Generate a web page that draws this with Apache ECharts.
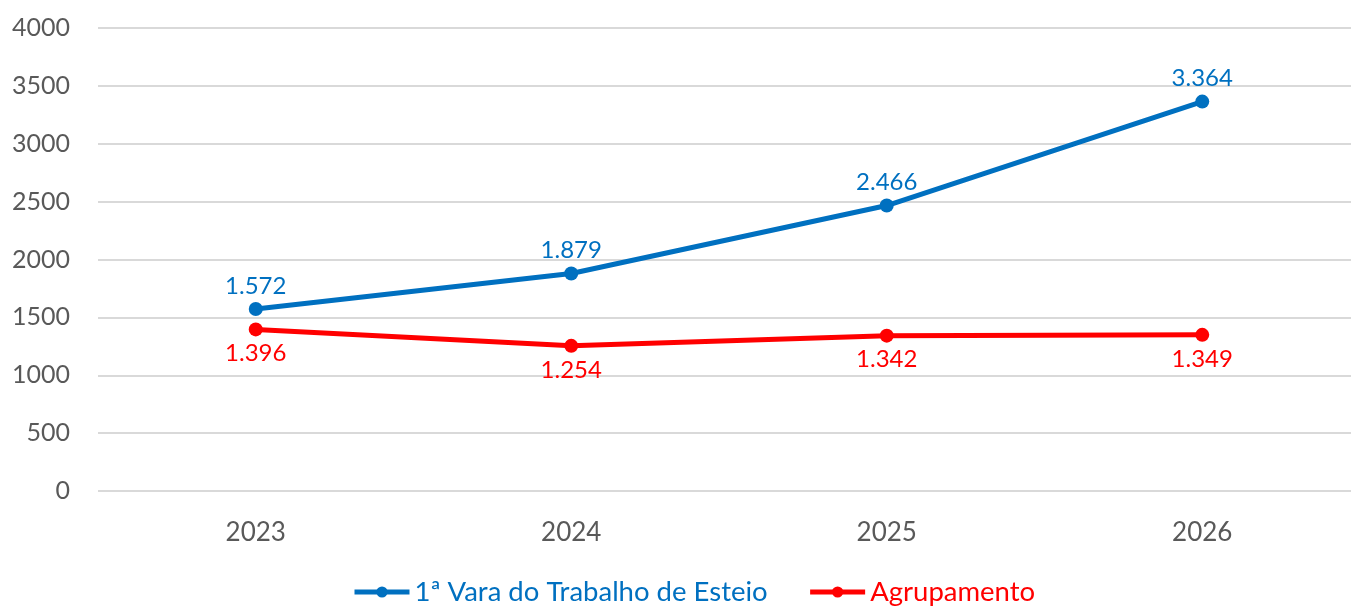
<!DOCTYPE html>
<html><head><meta charset="utf-8">
<script src="https://cdn.jsdelivr.net/npm/echarts@6/dist/echarts.min.js"></script>
<style>html,body{margin:0;padding:0;background:#fff;overflow:hidden}#c{width:1360px;height:606px}</style>
</head><body><div id="c"></div>
<script>
const categories = ['2023', '2024', '2025', '2026'];
const seriesVara = [1572, 1879, 2466, 3364];
const seriesAgrup = [1396, 1254, 1342, 1349];
const seriesNames = ['1ª Vara do Trabalho de Esteio', 'Agrupamento'];
const yTicks = { min: 0, max: 4000, interval: 500 };

const fmt = v => String(v).replace(/\B(?=(\d{3})+(?!\d))/g, '.');
const FONT = 'Lato';
const colors = ['#0070C0', '#FF0000'];
const chart = echarts.init(document.getElementById('c'), null, { renderer: 'canvas' });
chart.setOption({
  animation: false,
  textStyle: { fontFamily: FONT },
  grid: { left: 98, right: 0, top: 28, bottom: 115, containLabel: false },
  legend: {
    bottom: -5, left: 347,
    itemWidth: 55, itemHeight: 14, itemGap: 40,
    textStyle: { fontSize: 27.5, fontFamily: FONT },
    data: seriesNames.map((n, i) => ({
      name: n,
      textStyle: { color: colors[i], fontSize: 27.5 },
      lineStyle: { width: 5, color: colors[i] },
      itemStyle: { color: colors[i] }
    }))
  },
  xAxis: {
    type: 'category', data: categories, boundaryGap: true,
    axisLine: { show: false }, axisTick: { show: false },
    axisLabel: { color: '#595959', fontSize: 26, fontFamily: FONT, margin: 29 }
  },
  yAxis: {
    type: 'value', min: yTicks.min, max: yTicks.max, interval: yTicks.interval,
    axisLine: { show: false }, axisTick: { show: false },
    axisLabel: { color: '#595959', fontSize: 25, fontFamily: FONT, margin: 28, formatter: v => String(v) },
    splitLine: { lineStyle: { color: '#D9D9D9', width: 2 } }
  },
  series: [
    {
      name: seriesNames[0], type: 'line', data: seriesVara,
      symbol: 'circle', symbolSize: 14,
      lineStyle: { color: colors[0], width: 5 }, itemStyle: { color: colors[0] },
      label: { show: true, position: 'top', distance: 4, color: colors[0], fontSize: 24, fontFamily: FONT, formatter: p => fmt(p.value) }
    },
    {
      name: seriesNames[1], type: 'line', data: seriesAgrup,
      symbol: 'circle', symbolSize: 14,
      lineStyle: { color: colors[1], width: 5 }, itemStyle: { color: colors[1] },
      label: { show: true, position: 'bottom', distance: 5, color: colors[1], fontSize: 24, fontFamily: FONT, formatter: p => fmt(p.value) }
    }
  ]
});
</script></body></html>
